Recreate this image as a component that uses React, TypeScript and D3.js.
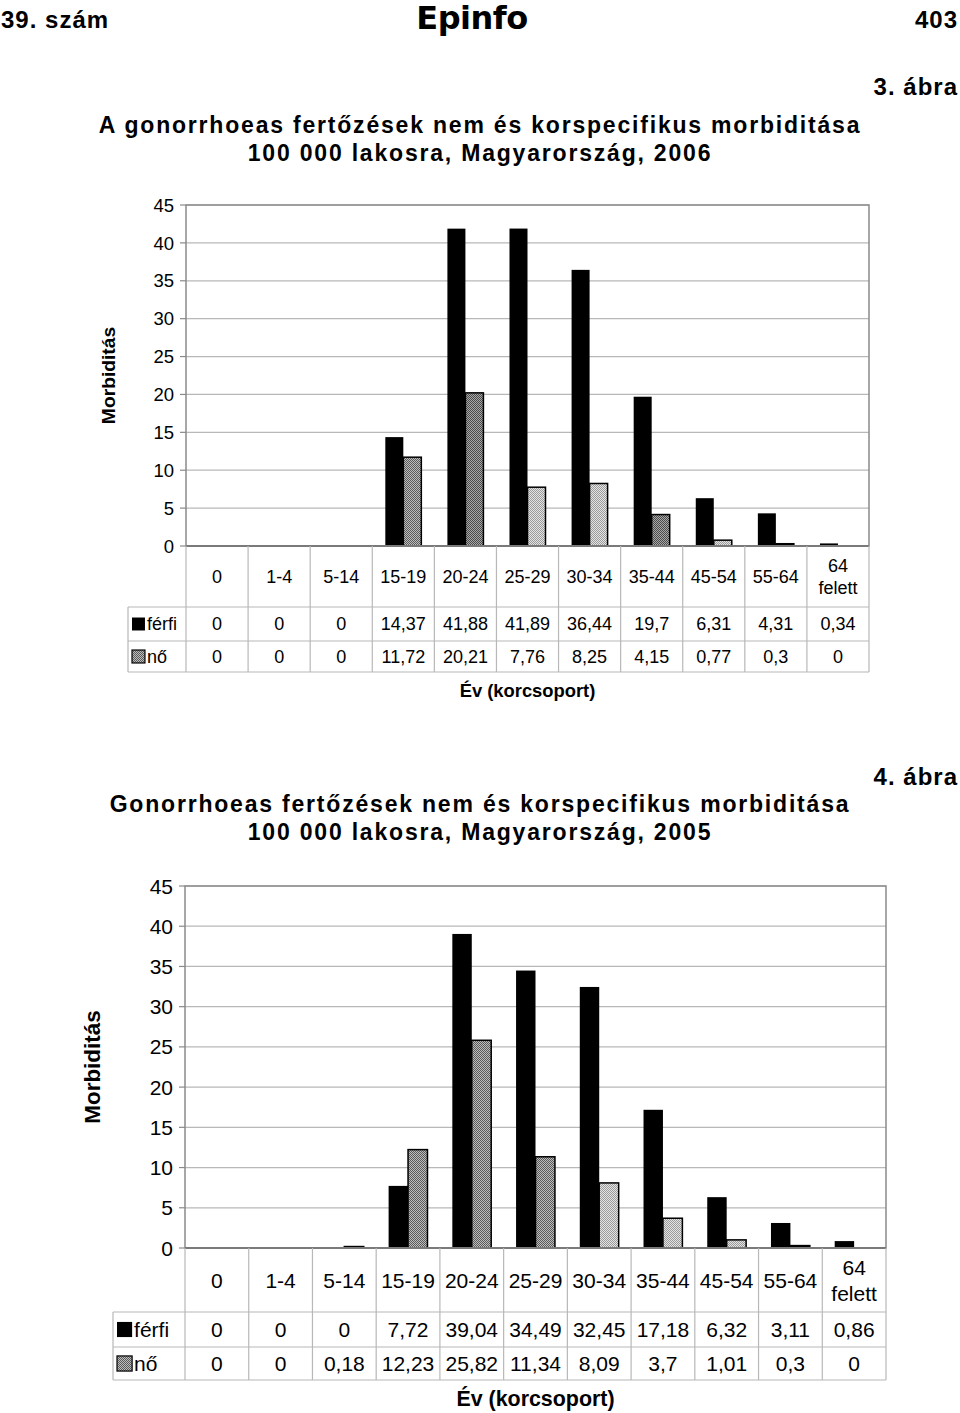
import * as d3 from 'd3';

const categories = ['0', '1-4', '5-14', '15-19', '20-24', '25-29', '30-34', '35-44', '45-54', '55-64', '64 felett'];
const ferfi2006 = [0, 0, 0, 14.37, 41.88, 41.89, 36.44, 19.7, 6.31, 4.31, 0.34];
const no2006 = [0, 0, 0, 11.72, 20.21, 7.76, 8.25, 4.15, 0.77, 0.3, 0];
const ferfi2005 = [0, 0, 0, 7.72, 39.04, 34.49, 32.45, 17.18, 6.32, 3.11, 0.86];
const no2005 = [0, 0, 0.18, 12.23, 25.82, 11.34, 8.09, 3.7, 1.01, 0.3, 0];
const yTicks = [0, 5, 10, 15, 20, 25, 30, 35, 40, 45];

// pattern per bar of the nő series (the scan shows two dither tones)
const shade2006 = ['d', 'd', 'd', 'm', 'd', 'l', 'l', 'd', 'l', 'l', 'l'];
const shade2005 = ['d', 'd', 'd', 'm', 'm', 'm', 'l', 'l', 'l', 'd', 'l'];

const FONT = "'Liberation Sans', Arial, sans-serif";
const fmt = (v: number) => String(v).replace('.', ',');

interface ChartProps {
  id: string;
  ferfi: number[];
  no: number[];
  shades: string[];
  left: number;
  right: number;
  top: number;
  zeroY: number;
  catBottom: number;
  row1Bottom: number;
  row2Bottom: number;
  legendLeft: number;
  fs: number;
  yfs: number;
  yLabelX: number;
  xLabelY: number;
  barFrac: number;
}

const Chart = (p: ChartProps) => {
  const x = d3.scaleBand<string>().domain(categories).range([p.left, p.right]);
  const y = d3.scaleLinear().domain([0, 45]).range([p.zeroY, p.top]);
  const bw = (x.bandwidth() * p.barFrac) / 2;
  const fill = (s: string) => `url(#${p.id}-${s})`;
  const cy = (p.zeroY + p.catBottom) / 2;
  const r1 = (p.catBottom + p.row1Bottom) / 2;
  const r2 = (p.row1Bottom + p.row2Bottom) / 2;
  const grid = '#b8b8b8';
  const sw = p.fs * 0.72;

  return (
    <g fontFamily={FONT}>
      <defs>
        <pattern id={`${p.id}-m`} width={2} height={2} patternUnits="userSpaceOnUse">
          <rect width={2} height={2} fill="#bdbdbd" />
          <rect width={1} height={1} fill="#5a5a5a" />
          <rect x={1} y={1} width={1} height={1} fill="#5a5a5a" />
        </pattern>
        <pattern id={`${p.id}-d`} width={2} height={2} patternUnits="userSpaceOnUse">
          <rect width={2} height={2} fill="#a8a8a8" />
          <rect width={1} height={1} fill="#4a4a4a" />
          <rect x={1} y={1} width={1} height={1} fill="#4a4a4a" />
        </pattern>
        <pattern id={`${p.id}-l`} width={2} height={2} patternUnits="userSpaceOnUse">
          <rect width={2} height={2} fill="#e4e4e4" />
          <rect width={1} height={1} fill="#9a9a9a" />
          <rect x={1} y={1} width={1} height={1} fill="#9a9a9a" />
        </pattern>
      </defs>
      {/* grid */}
      {yTicks.slice(1).map(t => (
        <line key={t} x1={p.left} x2={p.right} y1={y(t)} y2={y(t)} stroke={grid} strokeWidth={1.2} />
      ))}
      <rect x={p.left} y={p.top} width={p.right - p.left} height={p.zeroY - p.top} fill="none" stroke="#8a8a8a" strokeWidth={1.5} />
      {yTicks.map(t => (
        <g key={t}>
          <line x1={p.left - 6} x2={p.left} y1={y(t)} y2={y(t)} stroke="#8a8a8a" strokeWidth={1.2} />
          <text x={p.left - 12} y={y(t)} dy="0.36em" textAnchor="end" fontSize={p.yfs}>{t}</text>
        </g>
      ))}
      <text
        transform={`translate(${p.yLabelX},${(p.top + p.zeroY) / 2}) rotate(-90)`}
        textAnchor="middle"
        fontSize={p.fs * 1.07}
        fontWeight="bold"
        dy="0.36em"
      >
        Morbiditás
      </text>
      {/* bars */}
      {categories.map((c, i) => {
        const cx = (x(c) ?? 0) + x.bandwidth() / 2;
        return (
          <g key={c}>
            {p.ferfi[i] > 0 && (
              <rect x={cx - bw} y={y(p.ferfi[i])} width={bw} height={p.zeroY - y(p.ferfi[i])} fill="#000" />
            )}
            {p.no[i] > 0 && (
              <rect
                x={cx}
                y={y(p.no[i])}
                width={bw}
                height={p.zeroY - y(p.no[i])}
                fill={p.no[i] < 0.5 ? '#000' : fill(p.shades[i])}
                stroke="#000"
                strokeWidth={1.5}
              />
            )}
          </g>
        );
      })}
      <line x1={p.left} x2={p.right} y1={p.zeroY} y2={p.zeroY} stroke="#7a7a7a" strokeWidth={1.8} />
      {/* data table */}
      <line x1={p.legendLeft} x2={p.right} y1={p.catBottom} y2={p.catBottom} stroke={grid} strokeWidth={1.2} />
      <line x1={p.legendLeft} x2={p.right} y1={p.row1Bottom} y2={p.row1Bottom} stroke={grid} strokeWidth={1.2} />
      <line x1={p.legendLeft} x2={p.right} y1={p.row2Bottom} y2={p.row2Bottom} stroke={grid} strokeWidth={1.2} />
      <line x1={p.legendLeft} x2={p.legendLeft} y1={p.catBottom} y2={p.row2Bottom} stroke={grid} strokeWidth={1.2} />
      {categories.map(c => (
        <line key={c} x1={x(c)} x2={x(c)} y1={p.zeroY} y2={p.row2Bottom} stroke={grid} strokeWidth={1.2} />
      ))}
      <line x1={p.right} x2={p.right} y1={p.zeroY} y2={p.row2Bottom} stroke={grid} strokeWidth={1.2} />
      {categories.map((c, i) => {
        const cx = (x(c) ?? 0) + x.bandwidth() / 2;
        const parts = c.split(' ');
        return (
          <g key={c} fontSize={p.fs} textAnchor="middle">
            {parts.length === 1 ? (
              <text x={cx} y={cy} dy="0.36em">{c}</text>
            ) : (
              <text x={cx} y={cy - p.fs * 0.62} dy="0.36em">
                <tspan x={cx}>{parts[0]}</tspan>
                <tspan x={cx} dy={p.fs * 1.25}>{parts[1]}</tspan>
              </text>
            )}
            <text x={cx} y={r1} dy="0.36em">{fmt(p.ferfi[i])}</text>
            <text x={cx} y={r2} dy="0.36em">{fmt(p.no[i])}</text>
          </g>
        );
      })}
      <rect x={p.legendLeft + 4} y={r1 - sw / 2} width={sw} height={sw} fill="#000" />
      <text x={p.legendLeft + 6 + sw} y={r1} dy="0.36em" fontSize={p.fs}>férfi</text>
      <rect x={p.legendLeft + 4} y={r2 - sw / 2} width={sw} height={sw} fill={fill('m')} stroke="#000" strokeWidth={1.2} />
      <text x={p.legendLeft + 6 + sw} y={r2} dy="0.36em" fontSize={p.fs}>nő</text>
      <text x={(p.left + p.right) / 2} y={p.xLabelY} dy="0.36em" textAnchor="middle" fontSize={p.fs * 1.02} fontWeight="bold">
        Év (korcsoport)
      </text>
    </g>
  );
};

const App = () => (
  <svg width={960} height={1413} style={{ display: 'block', position: 'absolute', left: 0, top: 0 }}>
    <rect width={960} height={1413} fill="#fff" />
    <g fontFamily={FONT} fontWeight="bold" fontSize={24} letterSpacing={1}>
      <text x={1} y={28}>39. szám</text>
      <text x={958} y={28} textAnchor="end">403</text>
      <text x={958} y={95} textAnchor="end">3. ábra</text>
      <text x={958} y={785} textAnchor="end">4. ábra</text>
    </g>
    <text x={472} y={29} fontSize={32} textAnchor="middle" fontWeight="900" fontFamily="'DejaVu Sans', sans-serif" letterSpacing={-0.5}>
      Epinfo
    </text>
    <g fontFamily={FONT} fontSize={23} fontWeight="bold" textAnchor="middle" letterSpacing={1.8}>
      <text x={480} y={133}>A gonorrhoeas fertőzések nem és korspecifikus morbiditása</text>
      <text x={480} y={161}>100 000 lakosra, Magyarország, 2006</text>
      <text x={480} y={812}>Gonorrhoeas fertőzések nem és korspecifikus morbiditása</text>
      <text x={480} y={840}>100 000 lakosra, Magyarország, 2005</text>
    </g>
    <Chart
      id="c06"
      ferfi={ferfi2006}
      no={no2006}
      shades={shade2006}
      left={186}
      right={869}
      top={205}
      zeroY={546}
      catBottom={607}
      row1Bottom={641}
      row2Bottom={672}
      legendLeft={128}
      fs={18}
      yfs={18.5}
      yLabelX={108}
      xLabelY={690}
      barFrac={0.58}
    />
    <Chart
      id="c05"
      ferfi={ferfi2005}
      no={no2005}
      shades={shade2005}
      left={185}
      right={886}
      top={886}
      zeroY={1248}
      catBottom={1312}
      row1Bottom={1347}
      row2Bottom={1380}
      legendLeft={113}
      fs={21}
      yfs={21}
      yLabelX={92}
      xLabelY={1398}
      barFrac={0.61}
    />
  </svg>
);

export default App;
